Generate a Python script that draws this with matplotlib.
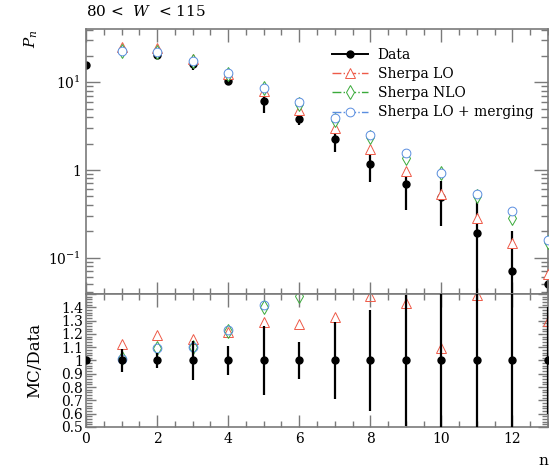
import matplotlib
matplotlib.use("Agg")
import matplotlib.pyplot as plt
from matplotlib.lines import Line2D
from matplotlib.ticker import FixedLocator, FixedFormatter, MultipleLocator, FuncFormatter, NullFormatter
import numpy as np

plt.rcParams['font.family'] = ['DejaVu Serif']
plt.rcParams['mathtext.fontset'] = 'dejavuserif'
plt.rcParams['font.size'] = 10

# multiplicity n
n_data = [0, 1, 2, 3, 4, 5, 6, 7, 8, 9, 10, 11, 12, 13]
p_data = [15.7, 22.5, 20.5, 16.0, 10.3, 6.12, 3.81, 2.25, 1.16, 0.685, 0.486, 0.189, 0.070, 0.0498]
p_err = [0.3, 1.9, 1.2, 2.3, 1.1, 1.6, 0.53, 0.65, 0.44, 0.34, 0.26, 0.29, 0.13, 0.02]

n_mc = [1, 2, 3, 4, 5, 6, 7, 8, 9, 10, 11, 12, 13]
p_lo = [25.3, 24.4, 18.6, 12.5, 7.9, 4.85, 2.98, 1.72, 0.98, 0.53, 0.282, 0.148, 0.0645]
p_nlo = [22.9, 22.4, 17.6, 12.6, 8.6, 5.65, 3.7, 2.4, 1.36, 0.93, 0.50, 0.28, 0.15]
p_merge = [22.7, 22.4, 17.6, 12.7, 8.67, 5.92, 3.88, 2.50, 1.55, 0.91, 0.53, 0.342, 0.16]

series = [
    ("Sherpa LO", p_lo, "^", "#ee5a48"),
    ("Sherpa NLO", p_nlo, "d", "#3aaa3a"),
    ("Sherpa LO + merging", p_merge, "o", "#5a8ee0"),
]
msize = {"^": 6.5, "d": 7, "o": 6.3}

axcol = "#7a7a7a"

fig = plt.figure(figsize=(5.49, 4.69), dpi=100)
ax = fig.add_axes([0.1566, 0.3731, 0.8416, 0.5651])
rax = fig.add_axes([0.1566, 0.0896, 0.8416, 0.2835], sharex=ax)

# main panel
ax.errorbar(n_data, p_data, yerr=p_err, fmt="o", color="black", ms=5,
            elinewidth=1.6, capsize=0, zorder=2)
for label, vals, mk, col in series:
    ax.plot(n_mc, vals, linestyle="none", marker=mk, ms=msize[mk],
            mfc="white", mec=col, mew=0.7, zorder=3)

ax.set_yscale("log")
ax.set_ylim(0.0383, 40.6)
ax.set_xlim(0, 13)

# ratio panel
d = np.array(p_data)
for label, vals, mk, col in series:
    r = np.array(vals) / d[1:]
    rax.plot(n_mc, r, linestyle="none", marker=mk, ms=msize[mk],
             mfc="none", mec=col, mew=0.7, zorder=2)
rax.errorbar(n_data, np.ones(len(n_data)), yerr=np.array(p_err) / d, fmt="o",
             color="black", ms=5, elinewidth=1.6, capsize=0, zorder=3)
rax.set_ylim(0.5, 1.5)

for a in (ax, rax):
    for s in a.spines.values():
        s.set_color(axcol)
        s.set_linewidth(1.2)
    a.xaxis.set_major_locator(MultipleLocator(2))
    a.xaxis.set_minor_locator(MultipleLocator(0.5))
    a.tick_params(which="both", direction="in", top=True, right=True,
                  color=axcol, width=1.0, labelsize=10)
    a.tick_params(axis="x", which="major", length=9)
    a.tick_params(axis="x", which="minor", length=4)

ax.tick_params(axis="y", which="major", length=10)
ax.tick_params(axis="y", which="minor", length=5)
ax.yaxis.set_major_locator(FixedLocator([0.1, 1, 10]))
ax.yaxis.set_major_formatter(FixedFormatter([r"$10^{-1}$", r"$1$", r"$10^{1}$"]))
ax.yaxis.set_minor_formatter(NullFormatter())
ax.tick_params(axis="x", labelbottom=False)

rax.yaxis.set_major_locator(MultipleLocator(0.1))
rax.yaxis.set_minor_locator(MultipleLocator(0.02))
rax.yaxis.set_major_formatter(FuncFormatter(lambda v, p: "%g" % round(v, 2) if v < 1.45 else ""))
rax.tick_params(axis="y", which="major", length=7)
rax.tick_params(axis="y", which="minor", length=4)
rax.tick_params(axis="y", labelsize=10, pad=2)

ax.set_ylabel(r"$P_n$", loc="top", fontsize=11, labelpad=6)
rax.set_ylabel("MC/Data", fontsize=12, labelpad=13)
rax.set_xlabel("n", loc="right", fontsize=11, labelpad=6)

fig.text(0.1566, 0.992, r"80 <  $W$  < 115", fontsize=11, ha="left", va="top")

handles = [Line2D([], [], color="black", marker="o", ms=5, lw=1.4)]
for label, vals, mk, col in series:
    handles.append(Line2D([], [], color=col, linestyle="-.", lw=1.0, marker=mk,
                          ms=msize[mk], mfc="white", mec=col, mew=0.7))
ax.legend(handles, ["Data"] + [s[0] for s in series], loc="upper left",
          bbox_to_anchor=(0.532, 0.93), frameon=False, borderpad=0,
          borderaxespad=0, handlelength=2.6, handletextpad=0.7,
          labelspacing=0.38, numpoints=1, fontsize=10)

fig.savefig("out.png", dpi=100)
